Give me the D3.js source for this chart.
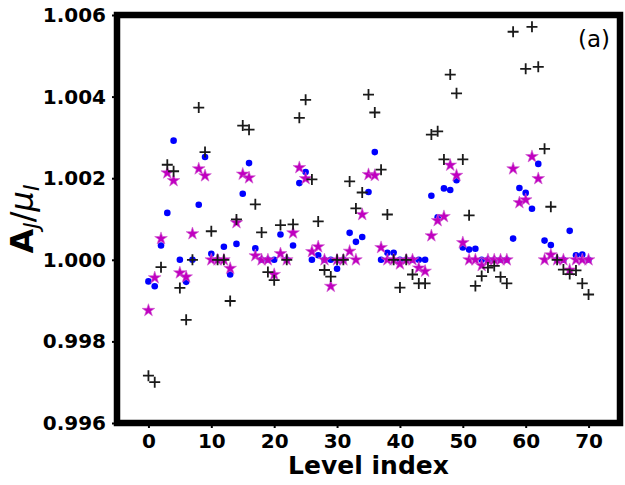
<!DOCTYPE html>
<html lang="en">
<head>
    <meta charset="UTF-8">
    <title>Level index chart</title>
    <script src="https://cdnjs.cloudflare.com/ajax/libs/d3/7.6.1/d3.min.js"></script>
    <style>
        body { margin: 0; background: #fff; }
        text { font-family: "DejaVu Sans", sans-serif; }
    </style>
</head>
<body>
<svg id="chart" width="625" height="485"></svg>
<script>

    // x tick labels
    const xTicks = [0, 10, 20, 30, 40, 50, 60, 70]
    const yTicks = [0.996, 0.998, 1.000, 1.002, 1.004, 1.006]

    // blue dots, one per level (index 0..70)
    const blueVals = [
        0.99947, 0.99935, 1.00035, 1.00115, 1.00292, 1.00000, 0.99946, 1.00000, 1.00135, 1.00252,
        1.00015, 1.00000, 1.00032, 0.99964, 1.00039, 1.00162, 1.00237, 1.00028, 1.00000, 1.00000,
        1.00000, 1.00062, 1.00000, 1.00035, 1.00188, 1.00215, 1.00000, 1.00011, 1.00000, 1.00000,
        0.99978, 1.00000, 1.00066, 1.00044, 1.00056, 1.00166, 1.00264, 1.00000, 1.00017, 1.00017,
        1.00000, 1.00000, 1.00000, 1.00000, 1.00000, 1.00157, 1.00104, 1.00175, 1.00171, 1.00195,
        1.00030, 1.00025, 1.00027, 1.00000, 1.00000, 1.00000, 1.00000, 1.00000, 1.00052, 1.00176,
        1.00164, 1.00125, 1.00235, 1.00047, 1.00036, 1.00000, 1.00000, 1.00071, 1.00011, 1.00013,
        1.00000
    ]

    // magenta stars
    const starVals = [
        0.99876, 0.99956, 1.00052, 1.00213, 1.00194, 0.99968, 0.99958, 1.00064, 1.00223, 1.00206,
        1.00000, 1.00000, 1.00000, 0.99979, 1.00091, 1.00210, 1.00201, 1.00010, 1.00000, 1.00000,
        0.99964, 1.00015, 1.00000, 1.00066, 1.00226, 1.00199, 1.00020, 1.00032, 1.00000, 0.99935,
        1.00000, 1.00000, 1.00021, 1.00000, 1.00111, 1.00209, 1.00207, 1.00030, 1.00000, 1.00000,
        0.99990, 1.00000, 1.00000, 0.99980, 0.99972, 1.00059, 1.00096, 1.00106, 1.00232, 1.00207,
        1.00042, 1.00000, 1.00000, 0.99986, 1.00000, 1.00000, 1.00000, 1.00000, 1.00223, 1.00140,
        1.00147, 1.00253, 1.00199, 1.00000, 1.00012, 1.00000, 1.00000, 0.99975, 1.00000, 1.00000,
        1.00000
    ]

    // black plus markers (null = not visible in the range)
    const plusVals = [
        0.99716, 0.99700, 0.99982, 1.00233, 1.00217, 0.99931, 0.99853, 1.00000, 1.00373, 1.00264,
        1.00070, 1.00000, 1.00000, 0.99899, 1.00099, 1.00329, 1.00319, 1.00136, 1.00067, 0.99970,
        0.99950, 1.00085, 1.00000, 1.00087, 1.00348, 1.00392, 1.00197, 1.00094, 0.99975, 0.99959,
        1.00000, 1.00000, 1.00192, 1.00126, 1.00165, 1.00405, 1.00361, 1.00221, 1.00111, 1.00000,
        0.99932, 1.00000, 0.99964, 0.99942, 0.99942, 1.00307, 1.00315, 1.00246, 1.00454, 1.00408,
        1.00246, 1.00109, 0.99936, 0.99960, 0.99981, 0.99985, 0.99958, 0.99942, 1.00559, null,
        1.00468, 1.00571, 1.00473, 1.00272, 1.00130, 1.00000, 0.99976, 0.99965, 0.99974, 0.99942,
        0.99915
    ]

    const svg = d3.select("#chart")

    // plot box
    const pLeft = 117, pRight = 620, pTop = 15, pBottom = 423

    const x = d3.scaleLinear().domain([-5, 75]).range([pLeft, pRight])
    const y = d3.scaleLinear().domain([0.996, 1.006]).range([pBottom, pTop])

    const toPts = vals => vals.map((v, i) => ({i: i, v: v})).filter(d => d.v !== null)

    // axes
    const xAxis = svg.append("g")
        .attr("transform", `translate(0,${pBottom})`)
        .call(d3.axisBottom(x).tickValues(xTicks).tickFormat(d3.format("d")).tickSizeOuter(0).tickSize(5).tickPadding(6))
    const yAxis = svg.append("g")
        .attr("transform", `translate(${pLeft},0)`)
        .call(d3.axisLeft(y).tickValues(yTicks).tickFormat(d3.format(".3f")).tickSizeOuter(0).tickSize(5).tickPadding(6))

    svg.selectAll(".domain").remove()
    svg.selectAll(".tick line").attr("stroke", "#000").attr("stroke-width", 2)
    svg.selectAll(".tick text")
        .attr("fill", "#000")
        .style("font-family", "DejaVu Sans")
        .style("font-weight", "bold")
        .style("font-size", "20px")

    // blue dots
    svg.append("g")
        .selectAll("circle")
        .data(toPts(blueVals))
        .join("circle")
        .attr("cx", d => x(d.i))
        .attr("cy", d => y(d.v))
        .attr("r", 3.3)
        .attr("fill", "#0000ff")

    // magenta stars
    const star = d3.symbol().type(d3.symbolStar).size(50)
    svg.append("g")
        .selectAll("path")
        .data(toPts(starVals))
        .join("path")
        .attr("d", star)
        .attr("transform", d => `translate(${x(d.i)},${y(d.v)})`)
        .attr("fill", "#c000c0")
        .attr("stroke", "#d060d0")
        .attr("stroke-width", 0.6)

    // black pluses
    svg.append("g")
        .selectAll("path")
        .data(toPts(plusVals))
        .join("path")
        .attr("d", "M-5.5,0H5.5M0,-5.5V5.5")
        .attr("transform", d => `translate(${x(d.i)},${y(d.v)})`)
        .attr("stroke", "#1a1a1a")
        .attr("stroke-width", 1.8)
        .attr("fill", "none")

    // frame
    svg.append("rect")
        .attr("x", pLeft)
        .attr("y", pTop)
        .attr("width", pRight - pLeft)
        .attr("height", pBottom - pTop)
        .attr("fill", "none")
        .attr("stroke", "#000")
        .attr("stroke-width", 6.5)

    // panel tag
    svg.append("text")
        .attr("x", 578)
        .attr("y", 47)
        .style("font-size", "23px")
        .text("(a)")

    // x label
    svg.append("text")
        .attr("x", (pLeft + pRight) / 2)
        .attr("y", 474)
        .attr("text-anchor", "middle")
        .style("font-size", "25px")
        .style("font-weight", "bold")
        .text("Level index")

    // y label A_J / mu_I
    const yl = svg.append("text")
        .attr("transform", `translate(33,${(pTop + pBottom) / 2}) rotate(-90)`)
        .attr("text-anchor", "middle")
        .style("font-size", "32px")
    yl.append("tspan").style("font-weight", "bold").text("A")
    yl.append("tspan").attr("dy", 6).style("font-style", "italic").style("font-size", "22px").text("J")
    yl.append("tspan").attr("dy", -6).text("/")
    yl.append("tspan").style("font-style", "italic").text("μ")
    yl.append("tspan").attr("dy", 6).style("font-style", "italic").style("font-size", "22px").text("I")

</script>
</body>
</html>
